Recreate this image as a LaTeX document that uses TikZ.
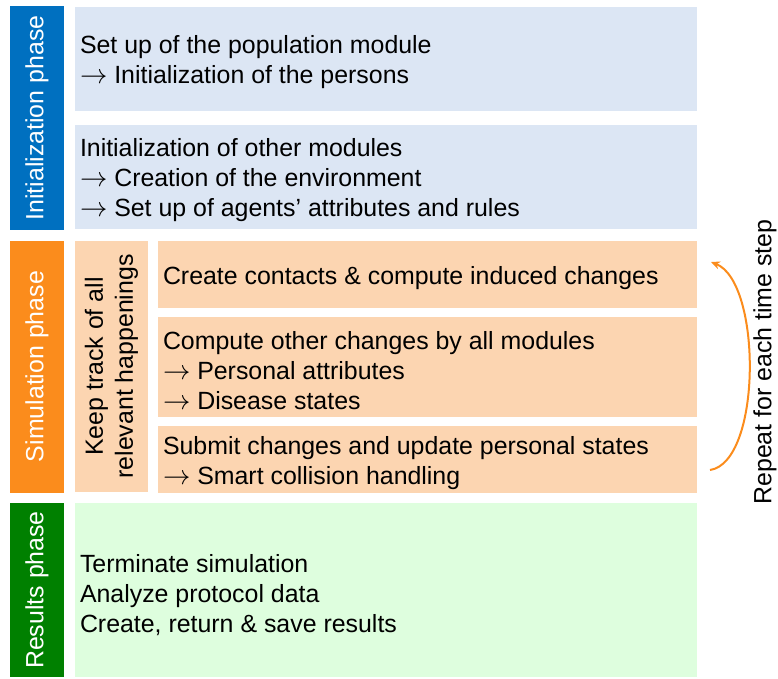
\documentclass[tikz,border=0pt]{standalone}
\usepackage{fontspec}
\setmainfont{Liberation Sans}
\usetikzlibrary{arrows.meta,calc}
\definecolor{barblue}{HTML}{0070C0}
\definecolor{boxblue}{HTML}{DCE6F4}
\definecolor{barorange}{HTML}{FB8C1C}
\definecolor{boxorange}{HTML}{FCD5B1}
\definecolor{bargreen}{HTML}{008000}
\definecolor{boxgreen}{HTML}{DEFEDE}
\newcommand{\arr}{\scalebox{1.1}{$\rightarrow$}}
\begin{document}
\begin{tikzpicture}[x=1pt,y=-1pt,
  every node/.style={font=\fontsize{24.9}{30}\selectfont, inner sep=0pt},
  phasebar/.style={rectangle, rotate=90, text=white, minimum height=54},
  infobox/.style={rectangle},
  infotext/.style={anchor=west, align=left, text=black},
  arrowcol/.style={draw=barorange, line width=2pt, -{Stealth[length=9pt,width=8pt]}}
]
\useasboundingbox (0,0) rectangle (778,678);
% phase bars
\node[phasebar, fill=barblue, minimum width=224] (initbar) at (37,118) {Initialization phase};
\node[phasebar, fill=barorange, minimum width=252] (simbar) at (37,366.5) {Simulation phase};
\node[phasebar, fill=bargreen, minimum width=174] (resbar) at (37,590) {Results phase};
% initialization boxes
\node[infobox, fill=boxblue, minimum width=622, minimum height=104] (pop) at (386,59) {};
\node[infotext] (popT) at ($(pop.west)+(5,3.5)$)
  {Set up of the population module\\\arr{} Initialization of the persons};
\node[infobox, fill=boxblue, minimum width=622, minimum height=104] (other) at (386,177) {};
\node[infotext] (otherT) at ($(other.west)+(5,3.5)$)
  {Initialization of other modules\\\arr{} Creation of the environment\\\arr{} Set up of agents’ attributes and rules};
% simulation
\node[rectangle, rotate=90, fill=boxorange, minimum width=251, minimum height=73, align=center] (track) at (111.5,366.5)
  {Keep track of all\\relevant happenings};
\node[infobox, fill=boxorange, minimum width=539, minimum height=67] (create) at (427.5,274.5) {};
\node[infotext] (createT) at ($(create.west)+(5,3.5)$)
  {Create contacts \& compute induced changes};
\node[infobox, fill=boxorange, minimum width=539, minimum height=100] (compute) at (427.5,367) {};
\node[infotext] (computeT) at ($(compute.west)+(5,3.5)$)
  {Compute other changes by all modules\\\arr{} Personal attributes\\\arr{} Disease states};
\node[infobox, fill=boxorange, minimum width=539, minimum height=67] (submit) at (427.5,459.5) {};
\node[infotext] (submitT) at ($(submit.west)+(5,3.5)$)
  {Submit changes and update personal states\\\arr{} Smart collision handling};
% results
\node[infobox, fill=boxgreen, minimum width=622, minimum height=174] (results) at (386,590) {};
\node[infotext] (resultsT) at ($(results.west)+(5,5)$)
  {Terminate simulation\\Analyze protocol data\\Create, return \& save results};
% repeat arrow
\coordinate (arrS) at (710,470);
\coordinate (arrE) at (711,262);
\draw[arrowcol] (arrS) .. controls (762,462) and (762,282) .. (arrE);
\node[rotate=90] (repeat) at (765,362) {Repeat for each time step};
\end{tikzpicture}
\end{document}
